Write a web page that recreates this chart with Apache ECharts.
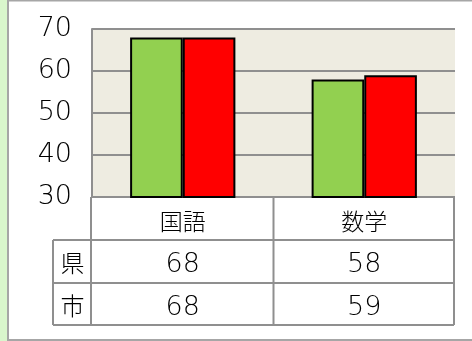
<!DOCTYPE html>
<html>
<head>
<meta charset="utf-8">
<script src="https://cdn.jsdelivr.net/npm/echarts@6/dist/echarts.min.js"></script>
<style>
  html, body { margin: 0; padding: 0; background: #fff; }
  #chart { width: 472px; height: 341px; }
</style>
</head>
<body>
<div id="chart"></div>
<script>
// Subjects and scores for prefecture (県) and city (市)
const subjects = ['国語', '数学'];
const rowNames = ['県', '市'];
const prefScores = [68, 58];
const cityScores = [68, 59];
const yTicks = [30, 40, 50, 60, 70];

const JP_FONT = '"Noto Sans CJK JP", sans-serif';
const NUM_FONT = '"DejaVu Sans", sans-serif';
const NUM_WEIGHT = 200;
const JP_WEIGHT = 300;
const LINE = '#8f8f8f';

const chart = echarts.init(document.getElementById('chart'), null, { renderer: 'canvas' });

// Grid box in pixels
const gLeft = 92, gTop = 29, gRight = 455, gBottom = 197;
const rowH = 43;
const tableLeft = 53;

const hLines = [];
for (let r = 0; r <= rowNames.length; r++) {
  const y = gBottom + rowH * (r + 1) + (r === rowNames.length ? -1 : 0);
  hLines.push({ type: 'line', shape: { x1: tableLeft, y1: y, x2: gRight - 1, y2: y },
    style: { stroke: LINE, lineWidth: 2 }, z: 20 });
}
const tableBottom = gBottom + rowH * (rowNames.length + 1) - 1;

chart.setOption({
  animation: false,
  backgroundColor: '#ffffff',
  grid: {
    left: gLeft, top: gTop, right: 472 - gRight, bottom: 341 - gBottom,
    show: true, backgroundColor: '#eeece1', borderWidth: 0
  },
  xAxis: {
    type: 'category',
    data: subjects,
    axisLine: { show: false },
    axisTick: { show: false },
    axisLabel: {
      margin: 3,
      formatter: (v, i) => `{c|${v}}\n{v|${prefScores[i]}}\n{v|${cityScores[i]}}`,
      rich: {
        c: { fontFamily: JP_FONT, fontWeight: JP_WEIGHT, fontSize: 23, color: '#000', lineHeight: rowH, height: rowH },
        v: { fontFamily: NUM_FONT, fontWeight: NUM_WEIGHT, fontSize: 27, color: '#000', lineHeight: rowH, height: rowH }
      }
    }
  },
  yAxis: {
    type: 'value',
    min: yTicks[0], max: yTicks[yTicks.length - 1], interval: 10,
    axisLine: { show: true, lineStyle: { color: LINE, width: 2 } },
    axisTick: { show: false },
    axisLabel: { margin: 20, fontFamily: NUM_FONT, fontWeight: NUM_WEIGHT, fontSize: 27, color: '#000', padding: [3, 0, 0, 0] },
    splitLine: { show: true, lineStyle: { color: LINE, width: 2 } }
  },
  series: [
    {
      name: '県', type: 'bar', data: prefScores,
      barGap: '0%', barCategoryGap: '42%',
      itemStyle: { color: '#92d050', borderColor: '#000', borderWidth: 2 }
    },
    {
      name: '市', type: 'bar', data: cityScores,
      barGap: '0%', barCategoryGap: '42%',
      itemStyle: { color: '#ff0000', borderColor: '#000', borderWidth: 2 }
    }
  ],
  graphic: [
    // outer frame
    { type: 'rect', shape: { x: 0, y: 0, width: 7, height: 341 }, style: { fill: '#d9f6cc' }, z: 1 },
    { type: 'line', shape: { x1: 8, y1: 0, x2: 8, y2: 341 }, style: { stroke: '#a6a6a6', lineWidth: 2 }, z: 1 },
    { type: 'line', shape: { x1: 8, y1: 0.5, x2: 472, y2: 0.5 }, style: { stroke: '#a6a6a6', lineWidth: 2 }, z: 1 },
    { type: 'line', shape: { x1: 8, y1: 340, x2: 472, y2: 340 }, style: { stroke: '#a6a6a6', lineWidth: 2 }, z: 1 },
    // data table grid
    { type: 'line', shape: { x1: gLeft - 1, y1: gBottom, x2: gLeft - 1, y2: tableBottom }, style: { stroke: LINE, lineWidth: 2 }, z: 20 },
    { type: 'line', shape: { x1: (gLeft + gRight) / 2, y1: gBottom, x2: (gLeft + gRight) / 2, y2: tableBottom }, style: { stroke: LINE, lineWidth: 2 }, z: 20 },
    { type: 'line', shape: { x1: gRight - 1, y1: gBottom, x2: gRight - 1, y2: tableBottom }, style: { stroke: LINE, lineWidth: 2 }, z: 20 },
    { type: 'line', shape: { x1: tableLeft, y1: gBottom + rowH, x2: tableLeft, y2: tableBottom }, style: { stroke: LINE, lineWidth: 2 }, z: 20 },
    ...hLines,
    ...rowNames.map((n, r) => ({
      type: 'text', z: 20,
      x: (tableLeft + gLeft) / 2, y: gBottom + rowH * (r + 1) + rowH / 2 + 1,
      style: { text: n, fontFamily: JP_FONT, fontWeight: JP_WEIGHT, fontSize: 24, fill: '#000', align: 'center', verticalAlign: 'middle' }
    }))
  ]
});
</script>
</body>
</html>
